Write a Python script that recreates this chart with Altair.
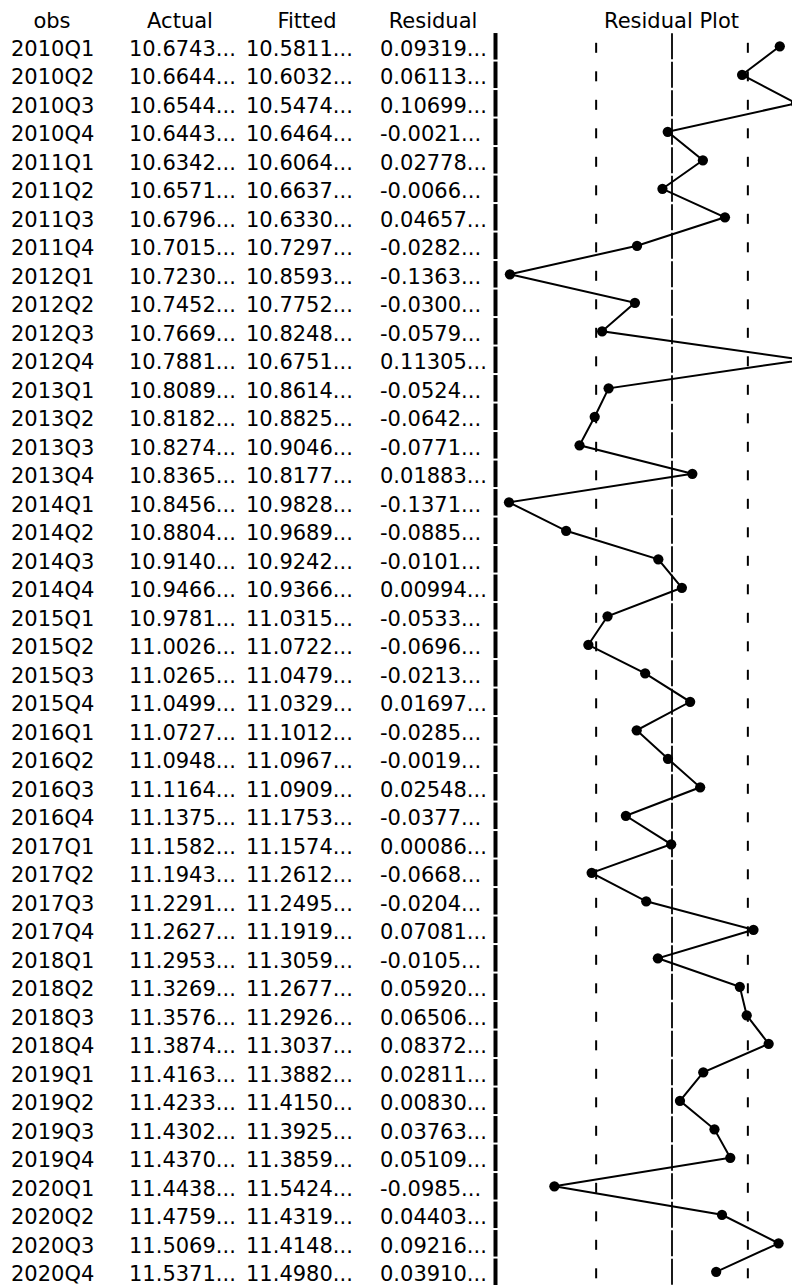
import altair as alt
import pandas as pd

obs = [f"{y}Q{q}" for y in range(2010, 2021) for q in range(1, 5)]

actual = [10.6743, 10.6644, 10.6544, 10.6443, 10.6342, 10.6571, 10.6796, 10.7015,
          10.7230, 10.7452, 10.7669, 10.7881, 10.8089, 10.8182, 10.8274, 10.8365,
          10.8456, 10.8804, 10.9140, 10.9466, 10.9781, 11.0026, 11.0265, 11.0499,
          11.0727, 11.0948, 11.1164, 11.1375, 11.1582, 11.1943, 11.2291, 11.2627,
          11.2953, 11.3269, 11.3576, 11.3874, 11.4163, 11.4233, 11.4302, 11.4370,
          11.4438, 11.4759, 11.5069, 11.5371]

fitted = [10.5811, 10.6032, 10.5474, 10.6464, 10.6064, 10.6637, 10.6330, 10.7297,
          10.8593, 10.7752, 10.8248, 10.6751, 10.8614, 10.8825, 10.9046, 10.8177,
          10.9828, 10.9689, 10.9242, 10.9366, 11.0315, 11.0722, 11.0479, 11.0329,
          11.1012, 11.0967, 11.0909, 11.1753, 11.1574, 11.2612, 11.2495, 11.1919,
          11.3059, 11.2677, 11.2926, 11.3037, 11.3882, 11.4150, 11.3925, 11.3859,
          11.5424, 11.4319, 11.4148, 11.4980]

residual = [0.09319, 0.06113, 0.10699, -0.0021, 0.02778, -0.0066, 0.04657, -0.0282,
            -0.1363, -0.0300, -0.0579, 0.11305, -0.0524, -0.0642, -0.0771, 0.01883,
            -0.1371, -0.0885, -0.0101, 0.00994, -0.0533, -0.0696, -0.0213, 0.01697,
            -0.0285, -0.0019, 0.02548, -0.0377, 0.00086, -0.0668, -0.0204, 0.07081,
            -0.0105, 0.05920, 0.06506, 0.08372, 0.02811, 0.00830, 0.03763, 0.05109,
            -0.0985, 0.04403, 0.09216, 0.03910]

headers = ["obs", "Actual", "Fitted", "Residual", "Residual Plot"]
SE = 0.0645


def cell(v):
    return f"{v:.5f}"[:7] + "..."


df = pd.DataFrame({
    "i": list(range(len(obs))),
    "obs": obs,
    "actual_txt": [cell(v) for v in actual],
    "fitted_txt": [cell(v) for v in fitted],
    "residual_txt": [cell(v) for v in residual],
    "residual": residual,
})

FONT = "DejaVu Sans"
FS = 21

Y = alt.Y("obs:N", sort=obs,
          scale=alt.Scale(type="point", range=[38.3, 1263.8], padding=0),
          axis=None)
XSCALE = alt.Scale(domain=[-0.15, 0.15], range=[485.8, 838.6], nice=False, zero=False)
X = alt.X("residual:Q", scale=XSCALE, axis=None)

base = alt.Chart(df)

layers = []

# table columns
for field, px in [("obs", 3), ("actual_txt", 121), ("fitted_txt", 238), ("residual_txt", 372)]:
    layers.append(
        base.mark_text(align="left", baseline="middle", font=FONT, fontSize=FS,
                       color="black", dy=3.5)
        .encode(x=alt.value(px), y=Y, text=f"{field}:N")
    )

# headers
for name, hx in zip(headers, [44, 172, 299, 425, 663.5]):
    layers.append(
        alt.Chart(pd.DataFrame({"h": [name]}))
        .mark_text(align="center", baseline="middle", font=FONT, fontSize=FS, color="black")
        .encode(x=alt.value(hx), y=alt.value(13.5), text="h:N")
    )

# thick table border
layers.append(
    base.mark_tick(orient="vertical", size=26.5, thickness=4, color="black", opacity=1)
    .encode(x=alt.value(487.5), y=Y)
)

# zero line
layers.append(
    base.mark_tick(orient="vertical", size=26, thickness=1.8, color="black",
                   opacity=1, xOffset=1.8)
    .encode(x=alt.X(datum=0, type="quantitative", scale=XSCALE, axis=None), y=Y)
)

# +/- 1 S.E. lines
for s in (-SE, SE):
    layers.append(
        base.mark_tick(orient="vertical", size=10, thickness=2, color="black",
                       opacity=1, xOffset=1.8, yOffset=1.5)
        .encode(x=alt.X(datum=s, type="quantitative", scale=XSCALE, axis=None), y=Y)
    )

# residual line and points
layers.append(
    base.mark_line(color="black", strokeWidth=2)
    .encode(x=X, y=Y, order=alt.Order("i:Q"))
)
layers.append(
    base.mark_circle(size=105, color="black", opacity=1)
    .encode(x=X, y=Y)
)

chart = (
    alt.layer(*layers)
    .properties(width=784, height=1277, padding=0,
                autosize=alt.AutoSizeParams(type="none"))
    .configure_view(stroke=None)
)

chart.save("out.html", embed_options={"renderer": "svg", "actions": False})
